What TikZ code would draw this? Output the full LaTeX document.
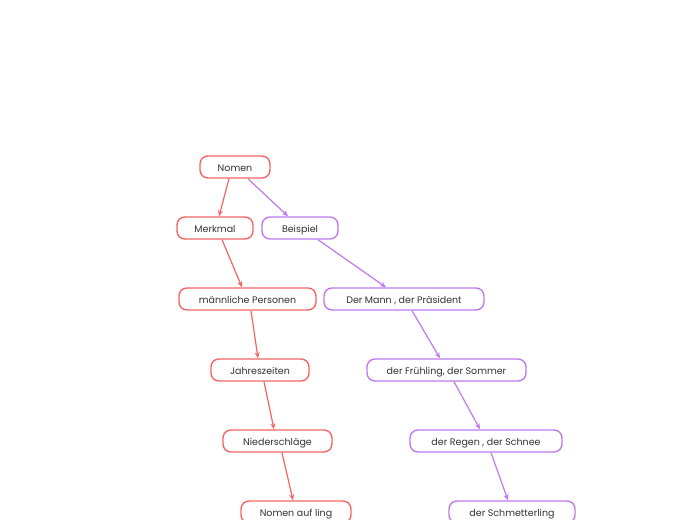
\documentclass[tikz,border=0pt]{standalone}
\usepackage{fontspec}
\setmainfont{Poppins}
\usetikzlibrary{arrows.meta}
\definecolor{redc}{HTML}{F26666}
\definecolor{purc}{HTML}{C07AEE}
\definecolor{txt}{HTML}{333333}
\begin{document}
\begin{tikzpicture}[x=1pt,y=-1pt,
  box/.style={draw, line width=1.4pt, rounded corners=8pt, minimum height=22pt, inner sep=0pt, text height=8pt, text depth=0pt, font=\fontsize{9.5}{11}\selectfont, text=txt},
  rbox/.style={box, draw=redc},
  pbox/.style={box, draw=purc},
  redge/.style={draw=redc, line width=1.2pt, -{Stealth[length=6pt,width=5pt]}},
  pedge/.style={draw=purc, line width=1.2pt, -{Stealth[length=6pt,width=5pt]}}]
\useasboundingbox[fill=white] (0,0) rectangle (697,520);
\node[rbox, minimum width=70pt] (nomen) at (235,167) {Nomen};
\node[rbox, minimum width=76pt] (merk) at (215,228) {Merkmal};
\node[pbox, minimum width=76pt] (beis) at (300,228) {Beispiel};
\node[rbox, minimum width=137pt] (maenn) at (247.5,299) {männliche Personen};
\node[pbox, minimum width=160pt] (mann) at (404,299) {Der Mann , der Präsident};
\node[rbox, minimum width=98pt] (jahr) at (260,370) {Jahreszeiten};
\node[pbox, minimum width=159pt] (fruehl) at (446.5,370) {der Frühling, der Sommer};
\node[rbox, minimum width=109pt] (nied) at (277.5,441) {Niederschläge};
\node[pbox, minimum width=152pt] (regen) at (486,441) {der Regen , der Schnee};
\node[rbox, minimum width=110pt] (ling) at (296,512) {Nomen auf ling};
\node[pbox, minimum width=126pt] (schm) at (512,512) {der Schmetterling};
\draw[redge] ([xshift=-6pt]nomen.south) -- ([xshift=4pt]merk.north);
\draw[pedge] ([xshift=13pt]nomen.south) -- ([xshift=-12pt]beis.north);
\draw[redge] ([xshift=7pt]merk.south) -- ([xshift=-5.5pt]maenn.north);
\draw[pedge] ([xshift=18pt]beis.south) -- ([xshift=-18pt]mann.north);
\draw[redge] ([xshift=3.5pt]maenn.south) -- ([xshift=-2pt]jahr.north);
\draw[pedge] ([xshift=8pt]mann.south) -- ([xshift=-6.5pt]fruehl.north);
\draw[redge] ([xshift=4pt]jahr.south) -- ([xshift=-3.5pt]nied.north);
\draw[pedge] ([xshift=7.5pt]fruehl.south) -- ([xshift=-6pt]regen.north);
\draw[redge] ([xshift=4.5pt]nied.south) -- ([xshift=-3pt]ling.north);
\draw[pedge] ([xshift=5pt]regen.south) -- ([xshift=-4pt]schm.north);
\end{tikzpicture}
\end{document}
